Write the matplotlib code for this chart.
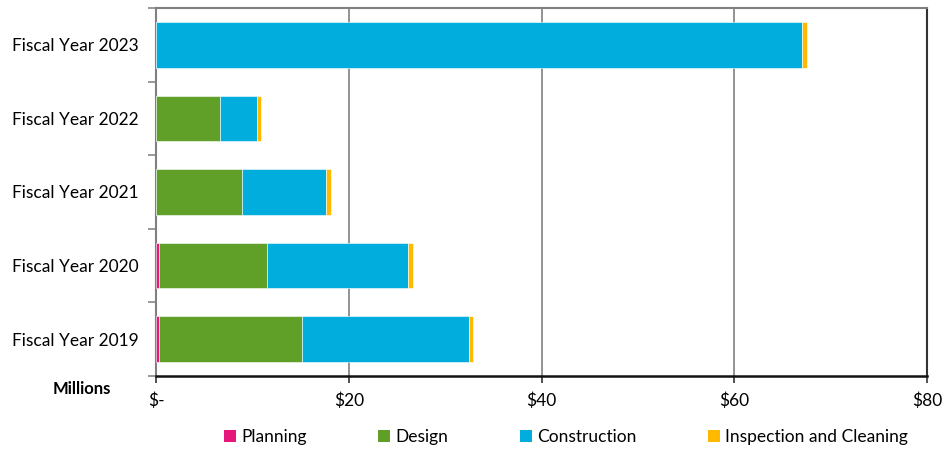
import matplotlib.pyplot as plt
from matplotlib.patches import Patch

plt.rcParams["font.family"] = ["Lato", "DejaVu Sans"]

years = ["Fiscal Year 2019", "Fiscal Year 2020", "Fiscal Year 2021",
         "Fiscal Year 2022", "Fiscal Year 2023"]
series = ["Planning", "Design", "Construction", "Inspection and Cleaning"]
colors = ["#E6197B", "#60A028", "#00ADDC", "#FFBA00"]

# values in $ millions, bottom (FY2019) to top (FY2023)
planning = [0.3, 0.25, 0.0, 0.0, 0.0]
design = [14.8, 11.2, 8.85, 6.6, 0.0]
construction = [17.3, 14.65, 8.7, 3.8, 67.0]
inspection = [0.5, 0.5, 0.55, 0.5, 0.5]
values = [planning, design, construction, inspection]

x_ticks = [0, 20, 40, 60, 80]
x_labels = ["$-", "$20", "$40", "$60", "$80"]

fig = plt.figure(figsize=(9.45, 4.49), dpi=100)
ax = fig.add_axes([0.1656, 0.163, 0.8154, 0.819])

ypos = range(len(years))
left = [0.0] * len(years)
for vals, color in zip(values, colors):
    ax.barh(ypos, vals, left=left, height=0.62, color=color,
            edgecolor="white", linewidth=0.4, zorder=3)
    left = [a + b for a, b in zip(left, vals)]

ax.set_xlim(0, 80)
ax.set_ylim(-0.5, len(years) - 0.5)
ax.set_xticks(x_ticks)
ax.set_xticklabels(x_labels, fontsize=12.5)
ax.set_yticks(list(ypos))
ax.set_yticklabels(years, fontsize=12.5)
ax.set_yticks([i - 0.5 for i in range(len(years) + 1)], minor=True)
ax.tick_params(axis="y", which="major", length=0, pad=13)
ax.tick_params(axis="y", which="minor", length=6, color="#888888", width=1.2)
ax.tick_params(axis="x", length=5, color="#333333", width=1.2, pad=7)

ax.grid(axis="x", color="#808080", linewidth=1.2, zorder=0)
ax.spines["left"].set_color("#808080")
ax.spines["left"].set_linewidth(1.5)
ax.spines["top"].set_color("#808080")
ax.spines["top"].set_linewidth(1.5)
ax.spines["right"].set_color("#333333")
ax.spines["right"].set_linewidth(1.5)
ax.spines["bottom"].set_color("#111111")
ax.spines["bottom"].set_linewidth(1.8)

fig.text(82 / 945, 1 - 389 / 449, "Millions", fontsize=12, fontweight="bold",
         ha="center", va="center")

handles = [Patch(facecolor=c, edgecolor="none") for c in colors]
fig.legend(handles, series, loc="center", bbox_to_anchor=(566 / 945, 1 - 437 / 449),
           ncol=4, frameon=False, fontsize=12.5, handlelength=0.7, handleheight=0.7,
           handletextpad=0.3, columnspacing=4.1)

fig.savefig("out.png", dpi=100)
